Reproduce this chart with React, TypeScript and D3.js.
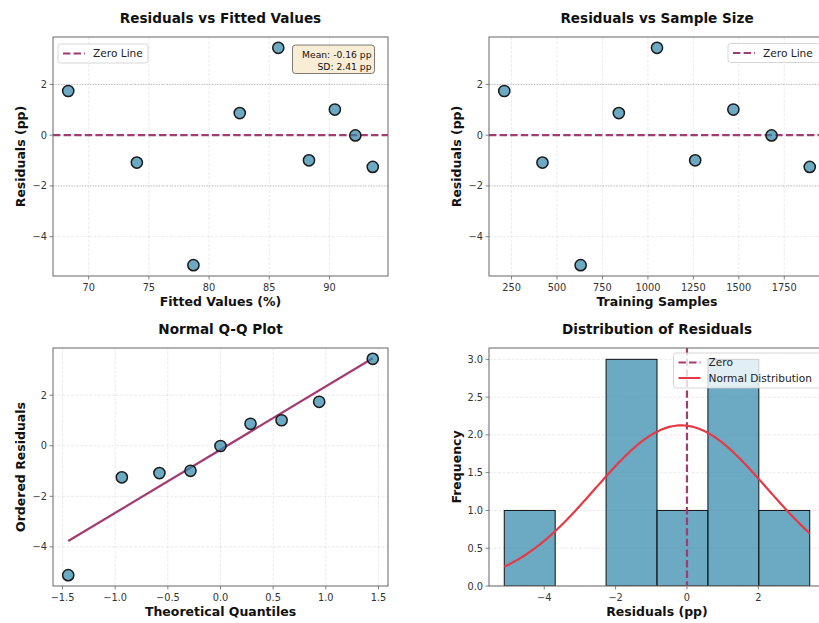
import React from 'react';
import * as d3 from 'd3';

// ---------- data ----------
const sampleSizes = [210, 420, 630, 840, 1050, 1260, 1470, 1680, 1890];
const fittedValues = [68.3, 74.0, 78.7, 82.55, 85.75, 88.3, 90.45, 92.15, 93.6];
const residuals = [1.74, -1.08, -5.12, 0.87, 3.44, -0.99, 1.01, -0.01, -1.25];
const theoreticalQuantiles = [-1.446, -0.937, -0.58, -0.285, 0, 0.285, 0.58, 0.937, 1.446];
const orderedResiduals = [-5.12, -1.25, -1.08, -0.99, -0.01, 0.87, 1.01, 1.74, 3.44];
const qqSlope = 2.5;
const qqIntercept = -0.155;
const histEdges = [-5.12, -3.693, -2.267, -0.84, 0.587, 2.013, 3.44];
const histCounts = [1, 0, 3, 1, 3, 1];
const residMean = -0.16;
const residSD = 2.41;

const fittedTicks = [70, 75, 80, 85, 90];
const residTicks = [-4, -2, 0, 2];
const sampleTicks = [250, 500, 750, 1000, 1250, 1500, 1750];
const qqXTicks = [-1.5, -1.0, -0.5, 0.0, 0.5, 1.0, 1.5];
const histXTicks = [-4, -2, 0, 2];
const freqTicks = [0, 0.5, 1.0, 1.5, 2.0, 2.5, 3.0];

const titles = ['Residuals vs Fitted Values', 'Residuals vs Sample Size', 'Normal Q-Q Plot', 'Distribution of Residuals'];

// ---------- style ----------
const FONT = 'DejaVu Sans, sans-serif';
const BLUE = '#2E86AB';
const PURPLE = '#A23B72';
const RED = '#E63946';
const SPINE = '#666';

const pad = (ext: [number, number]) => {
  const r = ext[1] - ext[0];
  return [ext[0] - 0.05 * r, ext[1] + 0.05 * r];
};

const fmtInt = (v: number) => (v < 0 ? '\u2212' + Math.abs(v) : String(v));
const fmt1 = (v: number) => (v < 0 ? '\u2212' + Math.abs(v).toFixed(1) : v.toFixed(1));

type Box = { x: number; y: number; w: number; h: number };

function Axes({ box, xs, ys, xTicks, yTicks, xFmt, yFmt, title, xLabel, yLabel, vGrid = true, children, id }: any) {
  const b: Box = box;
  return (
    <g>
      <defs>
        <clipPath id={id}>
          <rect x={b.x} y={b.y} width={b.w} height={b.h} />
        </clipPath>
      </defs>
      {/* grid */}
      <g>
        {vGrid && xTicks.map((t: number) => (
          <line key={'gx' + t} x1={xs(t)} x2={xs(t)} y1={b.y} y2={b.y + b.h} stroke="#aaa" strokeOpacity={0.3} strokeWidth={0.8} strokeDasharray="3 1.5" />
        ))}
        {yTicks.map((t: number) => (
          <line key={'gy' + t} x1={b.x} x2={b.x + b.w} y1={ys(t)} y2={ys(t)} stroke="#aaa" strokeOpacity={0.3} strokeWidth={0.8} strokeDasharray="3 1.5" />
        ))}
      </g>
      <g clipPath={`url(#${id})`}>{children}</g>
      {/* spines */}
      <rect x={b.x} y={b.y} width={b.w} height={b.h} fill="none" stroke={SPINE} strokeWidth={1} />
      {/* ticks */}
      {xTicks.map((t: number) => (
        <g key={'tx' + t}>
          <line x1={xs(t)} x2={xs(t)} y1={b.y + b.h} y2={b.y + b.h + 3.5} stroke={SPINE} strokeWidth={0.8} />
          <text x={xs(t)} y={b.y + b.h + 14.5} textAnchor="middle" fontSize={9.8} fill="#333" fontFamily={FONT}>{xFmt(t)}</text>
        </g>
      ))}
      {yTicks.map((t: number) => (
        <g key={'ty' + t}>
          <line x1={b.x - 3.5} x2={b.x} y1={ys(t)} y2={ys(t)} stroke={SPINE} strokeWidth={0.8} />
          <text x={b.x - 6} y={ys(t) + 3.5} textAnchor="end" fontSize={9.8} fill="#333" fontFamily={FONT}>{yFmt(t)}</text>
        </g>
      ))}
      <text x={b.x + b.w / 2} y={b.y - 14} textAnchor="middle" fontSize={13.6} fontWeight="bold" fontFamily={FONT} fill="#111">{title}</text>
      <text x={b.x + b.w / 2} y={b.y + b.h + 30} textAnchor="middle" fontSize={12.5} fontWeight="bold" fontFamily={FONT} fill="#111">{xLabel}</text>
      <text transform={`translate(${b.x - 28.5},${b.y + b.h / 2}) rotate(-90)`} textAnchor="middle" fontSize={12.5} fontWeight="bold" fontFamily={FONT} fill="#111">{yLabel}</text>
    </g>
  );
}

function Legend({ x, y, w, h, items }: any) {
  return (
    <g>
      <rect x={x} y={y} width={w} height={h} rx={2.5} fill="#fff" fillOpacity={0.8} stroke="#ccc" strokeWidth={0.8} />
      {items.map((it: any, i: number) => (
        <g key={i}>
          <line x1={x + 5} x2={x + 27} y1={y + 9.5 + i * 15.5} y2={y + 9.5 + i * 15.5} stroke={it.color} strokeWidth={2} strokeDasharray={it.dash ? '7.4 3.2' : undefined} />
          <text x={x + 35} y={y + 13.3 + i * 15.5} fontSize={10.6} fontFamily={FONT} fill="#222">{it.label}</text>
        </g>
      ))}
    </g>
  );
}

export default function App() {
  const TL: Box = { x: 53, y: 37, w: 335, h: 239 };
  const TR: Box = { x: 489, y: 37, w: 336, h: 239 };
  const BL: Box = { x: 53, y: 348, w: 335, h: 238 };
  const BR: Box = { x: 489, y: 348, w: 336, h: 238 };

  const resDom = pad(d3.extent(residuals) as [number, number]);
  const xFit = d3.scaleLinear().domain(pad(d3.extent(fittedValues) as [number, number])).range([TL.x, TL.x + TL.w]);
  const yResT = d3.scaleLinear().domain(resDom).range([TL.y + TL.h, TL.y]);
  const xSamp = d3.scaleLinear().domain(pad(d3.extent(sampleSizes) as [number, number])).range([TR.x, TR.x + TR.w]);
  const xQQ = d3.scaleLinear().domain(pad(d3.extent(theoreticalQuantiles) as [number, number])).range([BL.x, BL.x + BL.w]);
  const yQQ = d3.scaleLinear().domain(resDom).range([BL.y + BL.h, BL.y]);
  const xHist = d3.scaleLinear().domain(resDom).range([BR.x, BR.x + BR.w]);
  const yHist = d3.scaleLinear().domain([0, 3.15]).range([BR.y + BR.h, BR.y]);

  const binW = histEdges[1] - histEdges[0];
  const nObs = residuals.length;
  const curveXs = d3.range(0, 201).map((i) => histEdges[0] + (i / 200) * (histEdges[histEdges.length - 1] - histEdges[0]));
  const normalPts = curveXs.map((x) => [x, (nObs * binW * Math.exp(-0.5 * ((x - residMean) / residSD) ** 2)) / (residSD * Math.sqrt(2 * Math.PI))]);
  const normLine = d3.line<number[]>().x((d) => xHist(d[0])).y((d) => yHist(d[1])).curve(d3.curveLinear);
  const qqLine = d3.line<number>().x((q) => xQQ(q)).y((q) => yQQ(qqSlope * q + qqIntercept));

  const pts = (xs: any, ys: any, xv: number[], yv: number[]) =>
    xv.map((v, i) => <circle key={i} cx={xs(v)} cy={ys(yv[i])} r={5.6} fill={BLUE} fillOpacity={0.7} stroke="#1a1a1a" strokeWidth={1.5} />);

  const refLines = (b: Box, ys: any) => (
    <g>
      {[2, -2].map((v) => (
        <line key={v} x1={b.x} x2={b.x + b.w} y1={ys(v)} y2={ys(v)} stroke="#808080" strokeOpacity={0.6} strokeWidth={1} strokeDasharray="1 1.65" />
      ))}
      <line x1={b.x} x2={b.x + b.w} y1={ys(0)} y2={ys(0)} stroke={PURPLE} strokeWidth={2.2} strokeDasharray="7.4 3.2" />
    </g>
  );

  return (
    <svg width={819} height={623} style={{ position: 'absolute', left: 0, top: 0, overflow: 'hidden', background: '#fff' }}>
      <rect x={0} y={0} width={819} height={623} fill="#fff" />
      {/* Top-left */}
      <Axes id="c1" box={TL} xs={xFit} ys={yResT} xTicks={fittedTicks} yTicks={residTicks} xFmt={fmtInt} yFmt={fmtInt}
        title={titles[0]} xLabel="Fitted Values (%)" yLabel="Residuals (pp)">
        {refLines(TL, yResT)}
        {pts(xFit, yResT, fittedValues, residuals)}
      </Axes>
      <Legend x={58} y={44} w={90} h={19} items={[{ label: 'Zero Line', color: PURPLE, dash: true }]} />
      <g>
        <rect x={292.5} y={45} width={82} height={28.5} rx={3} fill="#F5DEB3" fillOpacity={0.55} stroke="#000" strokeOpacity={0.5} strokeWidth={1} />
        <text x={371.5} y={57.5} textAnchor="end" fontSize={9.2} fontFamily={FONT} fill="#111">Mean: {residMean.toFixed(2)} pp</text>
        <text x={371.5} y={69.5} textAnchor="end" fontSize={9.2} fontFamily={FONT} fill="#111">SD: {residSD.toFixed(2)} pp</text>
      </g>

      {/* Top-right */}
      <Axes id="c2" box={TR} xs={xSamp} ys={yResT} xTicks={sampleTicks} yTicks={residTicks} xFmt={fmtInt} yFmt={fmtInt}
        title={titles[1]} xLabel="Training Samples" yLabel="Residuals (pp)">
        {refLines(TR, yResT)}
        {pts(xSamp, yResT, sampleSizes, residuals)}
      </Axes>
      <Legend x={728} y={43.5} w={92} h={19} items={[{ label: 'Zero Line', color: PURPLE, dash: true }]} />

      {/* Bottom-left */}
      <Axes id="c3" box={BL} xs={xQQ} ys={yQQ} xTicks={qqXTicks} yTicks={residTicks} xFmt={fmt1} yFmt={fmtInt}
        title={titles[2]} xLabel="Theoretical Quantiles" yLabel="Ordered Residuals">
        <path d={qqLine([theoreticalQuantiles[0], theoreticalQuantiles[theoreticalQuantiles.length - 1]]) || ''} stroke={PURPLE} strokeWidth={2.2} fill="none" />
        {pts(xQQ, yQQ, theoreticalQuantiles, orderedResiduals)}
      </Axes>

      {/* Bottom-right */}
      <Axes id="c4" box={BR} xs={xHist} ys={yHist} xTicks={histXTicks} yTicks={freqTicks} xFmt={fmtInt} yFmt={fmt1} vGrid={false}
        title={titles[3]} xLabel="Residuals (pp)" yLabel="Frequency">
        {histCounts.map((c, i) =>
          c > 0 ? (
            <rect key={i} x={xHist(histEdges[i])} y={yHist(c)} width={xHist(histEdges[i + 1]) - xHist(histEdges[i])} height={yHist(0) - yHist(c)}
              fill={BLUE} fillOpacity={0.7} stroke="#111" strokeWidth={1} />
          ) : null
        )}
        <line x1={xHist(0)} x2={xHist(0)} y1={BR.y} y2={BR.y + BR.h} stroke={PURPLE} strokeWidth={2.2} strokeDasharray="7.4 3.2" />
        <path d={normLine(normalPts) || ''} stroke={RED} strokeWidth={2.2} fill="none" />
      </Axes>
      <Legend x={673.5} y={353} w={150} h={35} items={[{ label: 'Zero', color: PURPLE, dash: true }, { label: 'Normal Distribution', color: RED, dash: false }]} />
    </svg>
  );
}
